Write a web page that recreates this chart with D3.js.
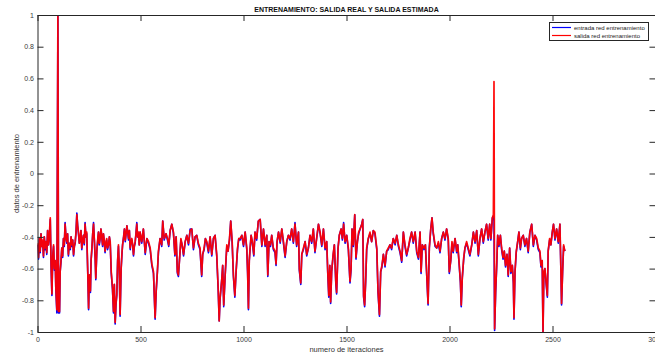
<!DOCTYPE html>
<html><head><meta charset="utf-8">
<script src="https://cdn.jsdelivr.net/npm/d3@7/dist/d3.min.js"></script>
<style>
body{margin:0;background:#fff;}
svg{display:block;font-family:"Liberation Sans",Arial,sans-serif;}
</style></head>
<body>
<svg id="chart" width="655" height="355"></svg>
<script>
const title = "ENTRENAMIENTO: SALIDA REAL Y SALIDA ESTIMADA";
const xLabel = "numero de iteraciones";
const yLabel = "datos de entrenamiento";
const seriesNames = ["entrada red entrenamiento", "salida red entrenamiento"];
const xTicks = [0, 500, 1000, 1500, 2000, 2500, 3000];
const yTicks = [-1, -0.8, -0.6, -0.4, -0.2, 0, 0.2, 0.4, 0.6, 0.8, 1];

const iterations = [1,5,9,13,17,21,25,29,33,37,41,45,49,53,57,62,66,70,74,78,82,86,89,94,99,102,107,110,114,118,122,126,130,134,138,142,146,150,154,159,163,167,171,175,179,183,187,191,195,199,203,207,211,215,219,223,227,231,235,239,244,248,252,257,260,264,268,272,276,280,283,288,292,296,300,304,308,312,316,320,324,328,332,336,340,345,349,353,358,364,369,373,377,381,385,389,393,397,401,406,410,413,418,422,426,430,434,438,442,446,450,454,458,462,466,470,474,478,482,486,490,494,498,
506,514,523,531,539,547,555,563,571,576,582,587,595,603,608,615,624,631,637,644,652,660,667,673,679,684,689,696,702,709,717,725,733,741,749,757,765,773,781,789,797,802,809,815,822,830,838,846,854,862,870,877,882,886,895,899,904,911,919,925,932,938,945,951,958,964,971,977,983,992,1000,1008,1016,1020,1024,1028,
1032,1037,1043,1050,1056,1064,1072,1081,1089,1097,1105,1113,1118,1124,1131,1137,1145,1153,1158,1163,1170,1178,1186,1194,1202,1210,1218,1226,1234,1242,1250,1258,1267,1271,1278,1283,1291,1299,1307,1315,1323,1331,1339,1347,1355,1364,1372,1380,1388,1396,1404,1409,1414,1419,1423,1428,1435,1441,1448,1452,1459,1465,1474,1480,1486,1493,1501,1509,1517,
1522,1527,1533,1540,1546,1553,1559,1566,1574,1579,1583,1588,1593,1598,1606,1614,1622,1630,1638,1647,1653,1660,1666,1672,1679,1687,1695,1703,1711,1719,1727,1736,1744,1752,1760,1768,1776,1784,1792,1800,1808,1816,1824,1833,1841,1849,1857,1862,1868,1876,1883,1889,1896,1902,1909,1915,1921,1930,1938,1946,1954,1962,1970,1978,1986,1994,1999,2006,2012,2018,2027,
2035,2040,2046,2053,2057,2062,2069,2075,2083,2091,2099,2108,2116,2124,2132,2140,2148,2156,2164,2172,2180,2188,2195,2201,2208,2213,2216,2219,2224,2229,2234,2240,2247,2253,2260,2266,2272,2279,2285,2292,2298,2305,2310,2313,2318,2324,2331,2337,2344,2350,2358,2366,2374,2382,2390,2399,2407,2415,2423,2431,2439,2444,2450,2454,2458,2463,2470,2475,2479,2486,2492,2499,2505,2512,2520,2528,2536,2541,2544,2549,2554,2560];

const salida = [-0.44,-0.53,-0.41,-0.49,-0.38,-0.46,-0.42,-0.52,-0.40,-0.47,-0.43,-0.50,-0.36,-0.45,-0.40,-0.28,-0.58,-0.76,-0.52,-0.45,-0.60,-0.55,-0.72,-0.86,1.0,-0.87,-0.87,-0.62,-0.55,-0.47,-0.52,-0.41,-0.45,-0.32,-0.40,-0.43,-0.38,-0.51,-0.44,-0.47,-0.40,-0.45,-0.42,-0.51,-0.46,-0.43,-0.37,-0.26,-0.33,-0.37,-0.44,-0.41,-0.36,-0.47,-0.42,-0.39,-0.44,-0.32,-0.40,-0.37,-0.62,-0.85,-0.64,-0.74,-0.55,-0.47,-0.38,-0.32,-0.42,-0.53,-0.66,-0.49,-0.42,-0.37,-0.44,-0.41,-0.35,-0.39,-0.45,-0.38,-0.42,-0.49,-0.44,-0.41,-0.47,-0.45,-0.40,-0.43,-0.62,-0.72,-0.87,-0.70,-0.94,-0.82,-0.76,-0.55,-0.45,-0.60,-0.89,-0.60,-0.50,-0.45,-0.40,-0.35,-0.42,-0.38,-0.33,-0.37,-0.41,-0.36,-0.47,-0.43,-0.41,-0.45,-0.51,-0.46,-0.43,-0.38,-0.32,-0.40,-0.37,-0.45,-0.37,
-0.43,-0.35,-0.50,-0.41,-0.43,-0.47,-0.57,-0.62,-0.91,-0.74,-0.62,-0.49,-0.41,-0.45,-0.30,-0.41,-0.38,-0.41,-0.45,-0.36,-0.32,-0.37,-0.51,-0.40,-0.62,-0.64,-0.55,-0.41,-0.45,-0.51,-0.43,-0.39,-0.44,-0.36,-0.35,-0.47,-0.40,-0.39,-0.44,-0.47,-0.64,-0.51,-0.47,-0.41,-0.43,-0.49,-0.40,-0.51,-0.41,-0.39,-0.51,-0.72,-0.93,-0.79,-0.66,-0.58,-0.83,-0.64,-0.45,-0.49,-0.41,-0.30,-0.43,-0.64,-0.77,-0.62,-0.47,-0.41,-0.41,-0.39,-0.45,-0.37,-0.47,-0.62,-0.85,-0.55,
-0.47,-0.39,-0.43,-0.51,-0.37,-0.41,-0.30,-0.29,-0.45,-0.35,-0.45,-0.39,-0.64,-0.43,-0.45,-0.39,-0.47,-0.49,-0.57,-0.43,-0.37,-0.43,-0.35,-0.43,-0.52,-0.43,-0.39,-0.41,-0.35,-0.43,-0.32,-0.45,-0.37,-0.60,-0.69,-0.51,-0.47,-0.43,-0.51,-0.47,-0.39,-0.43,-0.35,-0.49,-0.41,-0.32,-0.37,-0.45,-0.35,-0.47,-0.43,-0.62,-0.77,-0.58,-0.81,-0.62,-0.51,-0.45,-0.68,-0.75,-0.47,-0.39,-0.35,-0.41,-0.32,-0.43,-0.39,-0.47,-0.68,
-0.60,-0.35,-0.45,-0.26,-0.53,-0.43,-0.37,-0.35,-0.32,-0.29,-0.77,-0.83,-0.68,-0.47,-0.41,-0.37,-0.43,-0.36,-0.37,-0.47,-0.74,-0.89,-0.62,-0.58,-0.51,-0.58,-0.49,-0.47,-0.45,-0.47,-0.41,-0.44,-0.39,-0.45,-0.49,-0.55,-0.37,-0.45,-0.51,-0.47,-0.41,-0.37,-0.43,-0.37,-0.49,-0.53,-0.37,-0.62,-0.45,-0.47,-0.45,-0.62,-0.82,-0.47,-0.35,-0.28,-0.37,-0.45,-0.47,-0.43,-0.49,-0.41,-0.37,-0.41,-0.35,-0.41,-0.62,-0.55,-0.43,-0.49,-0.41,
-0.49,-0.45,-0.55,-0.68,-0.83,-0.66,-0.53,-0.47,-0.43,-0.47,-0.51,-0.45,-0.37,-0.43,-0.36,-0.51,-0.41,-0.35,-0.43,-0.37,-0.32,-0.41,-0.32,-0.41,-0.28,-0.26,0.58,-0.98,-0.74,-0.58,-0.39,-0.45,-0.39,-0.47,-0.53,-0.49,-0.58,-0.51,-0.64,-0.47,-0.62,-0.58,-0.68,-0.91,-0.62,-0.49,-0.43,-0.37,-0.47,-0.41,-0.39,-0.45,-0.41,-0.49,-0.37,-0.32,-0.45,-0.39,-0.41,-0.47,-0.49,-0.58,-0.55,-1.0,-0.62,-0.60,-0.70,-0.77,-0.49,-0.41,-0.45,-0.37,-0.32,-0.41,-0.35,-0.43,-0.32,-0.62,-0.82,-0.62,-0.45,-0.49];

const entrada = [-0.45,-0.54,-0.41,-0.50,-0.38,-0.46,-0.43,-0.53,-0.40,-0.48,-0.43,-0.51,-0.36,-0.45,-0.41,-0.29,-0.59,-0.77,-0.52,-0.46,-0.61,-0.55,-0.73,-0.88,1.0,-0.88,-0.88,-0.62,-0.56,-0.47,-0.53,-0.41,-0.46,-0.31,-0.40,-0.44,-0.38,-0.52,-0.44,-0.48,-0.40,-0.46,-0.42,-0.52,-0.46,-0.44,-0.37,-0.25,-0.33,-0.38,-0.44,-0.42,-0.36,-0.48,-0.42,-0.39,-0.45,-0.31,-0.40,-0.38,-0.63,-0.86,-0.64,-0.75,-0.55,-0.48,-0.38,-0.31,-0.42,-0.54,-0.67,-0.49,-0.43,-0.37,-0.45,-0.41,-0.35,-0.40,-0.46,-0.38,-0.43,-0.50,-0.44,-0.42,-0.48,-0.45,-0.40,-0.44,-0.63,-0.73,-0.88,-0.70,-0.95,-0.83,-0.77,-0.55,-0.46,-0.61,-0.90,-0.60,-0.51,-0.45,-0.40,-0.35,-0.43,-0.38,-0.33,-0.37,-0.42,-0.36,-0.48,-0.43,-0.42,-0.45,-0.52,-0.46,-0.44,-0.38,-0.31,-0.40,-0.38,-0.45,-0.37,
-0.44,-0.35,-0.51,-0.41,-0.44,-0.48,-0.58,-0.63,-0.92,-0.75,-0.62,-0.50,-0.41,-0.46,-0.30,-0.42,-0.38,-0.42,-0.46,-0.36,-0.32,-0.38,-0.52,-0.40,-0.63,-0.65,-0.55,-0.42,-0.45,-0.52,-0.43,-0.39,-0.45,-0.35,-0.35,-0.48,-0.40,-0.39,-0.45,-0.48,-0.65,-0.51,-0.48,-0.41,-0.44,-0.50,-0.40,-0.52,-0.41,-0.39,-0.52,-0.73,-0.93,-0.80,-0.66,-0.58,-0.84,-0.64,-0.46,-0.49,-0.42,-0.30,-0.44,-0.65,-0.78,-0.62,-0.48,-0.41,-0.42,-0.39,-0.46,-0.37,-0.48,-0.63,-0.86,-0.55,
-0.48,-0.39,-0.44,-0.52,-0.37,-0.42,-0.30,-0.29,-0.46,-0.35,-0.46,-0.39,-0.65,-0.43,-0.46,-0.39,-0.48,-0.50,-0.58,-0.43,-0.37,-0.44,-0.35,-0.44,-0.53,-0.43,-0.39,-0.42,-0.35,-0.44,-0.31,-0.46,-0.37,-0.61,-0.70,-0.51,-0.48,-0.43,-0.52,-0.47,-0.39,-0.44,-0.35,-0.50,-0.41,-0.32,-0.38,-0.46,-0.35,-0.48,-0.43,-0.63,-0.78,-0.58,-0.82,-0.62,-0.52,-0.45,-0.69,-0.76,-0.47,-0.39,-0.35,-0.42,-0.31,-0.44,-0.39,-0.48,-0.69,
-0.61,-0.35,-0.46,-0.26,-0.54,-0.43,-0.38,-0.35,-0.32,-0.29,-0.78,-0.84,-0.68,-0.48,-0.41,-0.38,-0.43,-0.36,-0.38,-0.48,-0.75,-0.90,-0.62,-0.59,-0.51,-0.59,-0.49,-0.48,-0.45,-0.48,-0.41,-0.45,-0.39,-0.46,-0.50,-0.56,-0.37,-0.46,-0.52,-0.47,-0.42,-0.37,-0.44,-0.37,-0.50,-0.54,-0.37,-0.63,-0.45,-0.48,-0.45,-0.63,-0.83,-0.47,-0.35,-0.28,-0.38,-0.46,-0.47,-0.44,-0.50,-0.41,-0.37,-0.42,-0.35,-0.42,-0.63,-0.55,-0.44,-0.50,-0.41,
-0.50,-0.45,-0.56,-0.69,-0.84,-0.66,-0.54,-0.47,-0.44,-0.48,-0.52,-0.45,-0.37,-0.44,-0.36,-0.52,-0.41,-0.35,-0.44,-0.37,-0.32,-0.42,-0.32,-0.42,-0.28,-0.27,-0.30,-0.99,-0.75,-0.59,-0.39,-0.46,-0.39,-0.48,-0.54,-0.49,-0.59,-0.51,-0.65,-0.47,-0.63,-0.58,-0.69,-0.92,-0.62,-0.50,-0.43,-0.37,-0.48,-0.41,-0.39,-0.46,-0.41,-0.50,-0.37,-0.32,-0.46,-0.39,-0.42,-0.48,-0.50,-0.59,-0.55,-1.0,-0.63,-0.60,-0.71,-0.78,-0.49,-0.42,-0.45,-0.37,-0.32,-0.42,-0.35,-0.44,-0.32,-0.63,-0.83,-0.62,-0.46,-0.49];

const svg = d3.select("#chart");
const L = 37.5, T = 15, W = 618, H = 317;
const x = d3.scaleLinear().domain([0, 3000]).range([L, L + W]);
const y = d3.scaleLinear().domain([-1, 1]).range([T + H, T]);
const axisColor = "#262626";

svg.append("clipPath").attr("id", "plotclip").append("rect")
  .attr("x", L).attr("y", T).attr("width", W).attr("height", H);

const line = d3.line().x((d, i) => x(iterations[i])).y(d => y(d));
const g = svg.append("g").attr("clip-path", "url(#plotclip)");
g.append("path").datum(entrada).attr("d", line).attr("fill", "none")
  .attr("stroke", "#0000ff").attr("stroke-width", 1.6).attr("stroke-linejoin", "round");
g.append("path").datum(salida).attr("d", line).attr("fill", "none")
  .attr("stroke", "#ff0000").attr("stroke-width", 1.7).attr("stroke-linejoin", "round").attr("opacity", 0.95);

function styleAxis(sel, labels) {
  sel.select(".domain").attr("stroke", axisColor).attr("stroke-width", 1);
  sel.selectAll(".tick line").attr("stroke", axisColor);
  sel.selectAll(".tick text").attr("fill", "#3a3a3a").style("font-size", "7px")
    .style("font-family", "'Liberation Sans', Arial, sans-serif");
  if (!labels) sel.selectAll(".tick text").remove();
}
const fmt = d => (d === 0 ? "0" : String(Math.round(d * 10) / 10));
svg.append("g").attr("transform", `translate(0,${T + H})`)
  .call(d3.axisBottom(x).tickValues(xTicks).tickSize(-6).tickSizeOuter(0).tickPadding(5).tickFormat(d3.format("d")))
  .call(s => styleAxis(s, true));
svg.append("g").attr("transform", `translate(0,${T})`)
  .call(d3.axisTop(x).tickValues(xTicks).tickSize(-6).tickSizeOuter(0))
  .call(s => styleAxis(s, false));
svg.append("g").attr("transform", `translate(${L},0)`)
  .call(d3.axisLeft(y).tickValues(yTicks).tickSize(-6).tickSizeOuter(0).tickPadding(3.5).tickFormat(fmt))
  .call(s => styleAxis(s, true));
svg.append("g").attr("transform", `translate(${L + W},0)`)
  .call(d3.axisRight(y).tickValues(yTicks).tickSize(-6).tickSizeOuter(0))
  .call(s => styleAxis(s, false));

svg.append("text").attr("x", L + W / 2).attr("y", 12).attr("text-anchor", "middle")
  .attr("font-weight", "bold").attr("font-size", 7).attr("fill", "#111").text(title);
svg.append("text").attr("x", L + W / 2).attr("y", 352).attr("text-anchor", "middle")
  .attr("font-size", 7.5).attr("fill", "#333").text(xLabel);
svg.append("text").attr("transform", `translate(18.5,${T + H / 2}) rotate(-90)`).attr("text-anchor", "middle")
  .attr("font-size", 7.5).attr("fill", "#333").text(yLabel);

const lg = svg.append("g");
lg.append("rect").attr("x", 549.5).attr("y", 22.5).attr("width", 99).attr("height", 18)
  .attr("fill", "#fff").attr("stroke", axisColor).attr("stroke-width", 1);
const colors = ["#0000ff", "#ff0000"];
seriesNames.forEach((name, i) => {
  const yy = 27.5 + i * 8;
  lg.append("line").attr("x1", 552).attr("x2", 571).attr("y1", yy).attr("y2", yy)
    .attr("stroke", colors[i]).attr("stroke-width", 1.2);
  lg.append("text").attr("x", 574).attr("y", yy + 2.2).attr("font-size", 6)
    .attr("fill", "#222").text(name);
});
</script>
</body></html>
